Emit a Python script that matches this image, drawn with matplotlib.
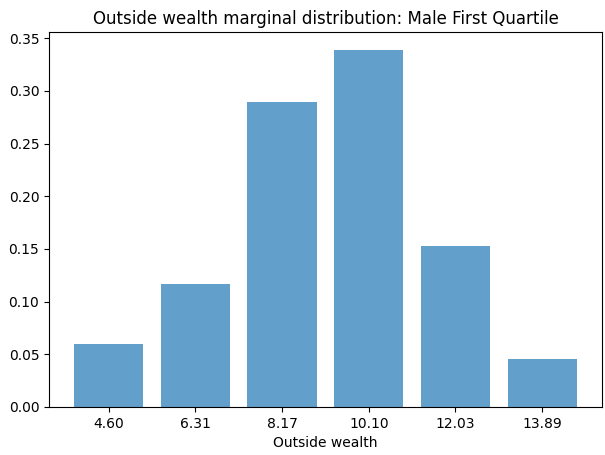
import matplotlib
matplotlib.use("Agg")
import matplotlib.pyplot as plt

WEALTH_LABELS = ["4.60", "6.31", "8.17", "10.10", "12.03", "13.89"]
PROBABILITIES = [0.060, 0.117, 0.290, 0.339, 0.153, 0.046]

TITLE = "Outside wealth marginal distribution: Male First Quartile"
OUTPUT_FILE = "out.png"


def main():
    fig, ax = plt.subplots(figsize=(6.05, 4.55), dpi=100)
    fig.subplots_adjust(left=0.081, right=0.995, top=0.9297, bottom=0.1055)

    ax.bar(WEALTH_LABELS, PROBABILITIES, color="#1f77b4", alpha=0.7, width=0.8)

    ax.set_title(TITLE)
    ax.set_xlabel("Outside wealth")
    ax.set_yticks([0.0, 0.05, 0.10, 0.15, 0.20, 0.25, 0.30, 0.35])
    ax.yaxis.set_major_formatter(matplotlib.ticker.FormatStrFormatter("%.2f"))
    ax.set_ylim(0, 0.356)

    fig.savefig(OUTPUT_FILE, dpi=100)
    plt.close(fig)


if __name__ == "__main__":
    main()
